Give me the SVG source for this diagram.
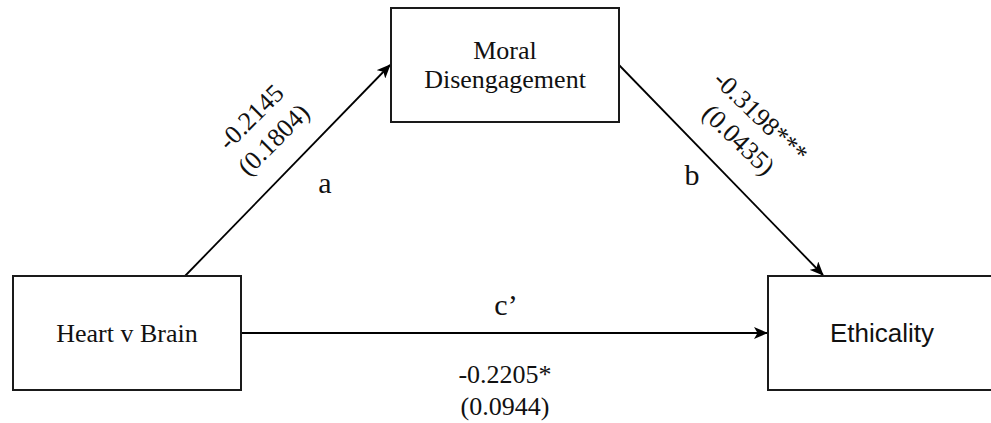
<svg xmlns="http://www.w3.org/2000/svg" width="991" height="423" viewBox="0 0 991 423">
<style>
.box{fill:#fff;stroke:#1a1a1a;stroke-width:2}
.edge{fill:none;stroke:#000;stroke-width:1.8}
.serif{font-family:"Liberation Serif","Times New Roman",serif;fill:#111}
.sans{font-family:"Liberation Sans",Arial,sans-serif;fill:#111}
.t26{font-size:26px;text-anchor:middle}
.t30{font-size:30px;text-anchor:middle}
</style>
<defs>
<marker id="arr" viewBox="0 0 14 12" refX="13" refY="6" markerWidth="14" markerHeight="12" markerUnits="userSpaceOnUse" orient="auto">
<path d="M0,0 L14,6 L0,12 L3.5,6 Z" fill="#000"/>
</marker>
</defs>
<rect width="991" height="423" fill="#fff"/>
<g id="connectors">
<line class="edge" x1="185" y1="276" x2="390" y2="65" marker-end="url(#arr)"/>
<line class="edge" x1="619" y1="65" x2="823" y2="275" marker-end="url(#arr)"/>
<line class="edge" x1="241" y1="333" x2="767" y2="333" marker-end="url(#arr)"/>
<text class="serif t30" x="325" y="193">a</text>
<text class="serif t30" x="692" y="185">b</text>
<text class="serif t30" x="506" y="315">c’</text>
<g transform="translate(262,128) rotate(-45)">
<text class="serif t26" x="0" y="-7">-0.2145</text>
<text class="serif t26" x="0" y="25">(0.1804)</text>
</g>
<g transform="translate(750,128) rotate(44)">
<text class="serif t26" x="0" y="-7">-0.3198***</text>
<text class="serif t26" x="0" y="25">(0.0435)</text>
</g>
<text class="serif t26" x="505" y="383">-0.2205*</text>
<text class="serif t26" x="505" y="415">(0.0944)</text>
</g>
<g id="node-moral">
<rect class="box" x="391" y="8" width="228" height="114"/>
<text class="serif t26" x="505" y="59">Moral</text>
<text class="serif t26" x="505" y="88">Disengagement</text>
</g>
<g id="node-heart">
<rect class="box" x="13" y="276" width="228" height="114"/>
<text class="serif t26" x="127" y="342">Heart v Brain</text>
</g>
<g id="node-ethicality">
<rect class="box" x="768" y="276" width="228" height="114"/>
<text class="sans t26" x="882" y="342">Ethicality</text>
</g>
</svg>
